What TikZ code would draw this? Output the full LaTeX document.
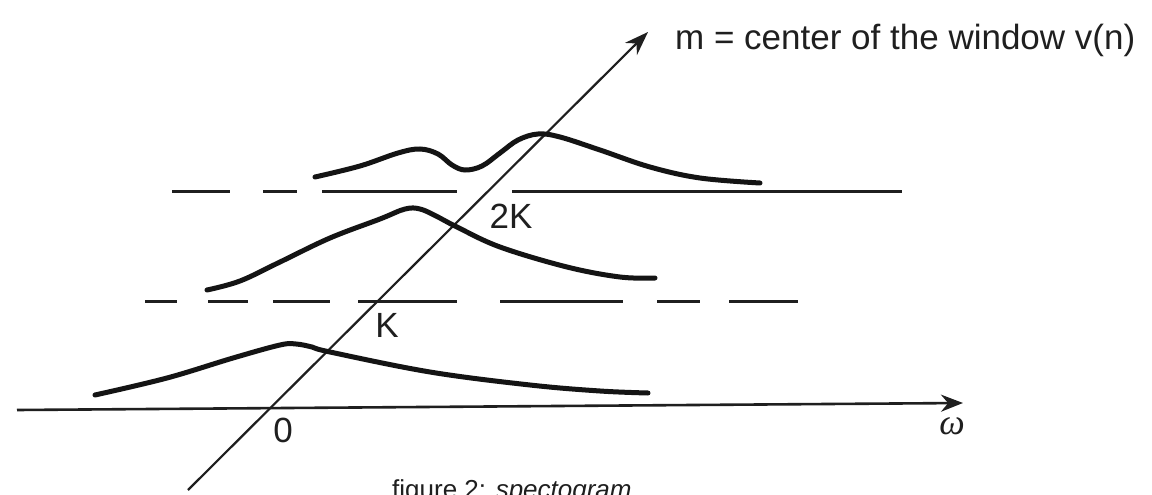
\documentclass[tikz,border=0pt]{standalone}
\usepackage{fontspec}
\setmainfont{Liberation Sans}
\newfontfamily\greekfont{Liberation Serif}
\usetikzlibrary{arrows.meta}

\begin{document}
\begin{tikzpicture}[x=1pt, y=-1pt, >=Stealth,
      axis/.style={draw=black!88, line width=2.6pt},
      level/.style={draw=black!88, line width=3pt},
      spec/.style={draw=black!92, line width=5pt, line cap=round, smooth, tension=0.6},
      lbl/.style={font=\fontsize{35}{40}\selectfont, text=black!88, inner sep=0pt}]
    \path[fill=white, use as bounding box] (0,0) rectangle (1152,495);
    \coordinate (wlo) at (17,410);
    \coordinate (whi) at (963,403);
    \coordinate (mlo) at (188,490);
    \coordinate (mhi) at (648,32);
    \draw[axis, -{Stealth[length=22pt, width=17pt]}] (wlo) -- (whi);
    \draw[axis, line width=2.2pt, -{Stealth[length=24pt, width=17pt]}] (mlo) -- (mhi);
    \foreach \a/\b in {145/177, 208/248, 273/330, 358/457, 500/623, 657/700, 729/798}
      \draw[level] (\a,301) -- (\b,301);
    \foreach \a/\b in {172/230, 263/297, 322/457, 512/902}
      \draw[level] (\a,191) -- (\b,191);
    \draw[spec] plot coordinates {(95,395) (167,378) (233,358) (280,345) (296,344) (312,347)
      (330,352) (430,372) (530,385) (600,391) (648,393)};
    \draw[spec] plot coordinates {(207,290) (240,281) (280,262) (330,238) (380,219)
      (405,209) (420,209) (436,216) (457,227) (500,247) (567,267) (620,277) (655,278)};
    \draw[spec] plot coordinates {(315,177) (360,166) (398,153) (420,149) (438,154) (452,165)
      (465,170) (482,166) (500,153) (518,140) (538,134) (560,137) (600,150) (650,167)
      (700,178) (760,183)};
    \node[lbl, anchor=base west] (mlab) at (675,50) {m = center of the window v(n)};
    \node[lbl] (zero) at (283,430) {0};
    \node[lbl] (k) at (387,325) {K};
    \node[lbl] (kk) at (511,216) {2K};
    \node[lbl, font=\fontsize{36}{40}\greekfont\itshape] (w) at (952,426) {ω};
    \node[font=\fontsize{26}{30}\selectfont, text=black!88, anchor=base west, inner sep=0pt] (cap)
      at (392,498) {figure 2: \textit{spectogram}};
  \end{tikzpicture}
\end{document}
